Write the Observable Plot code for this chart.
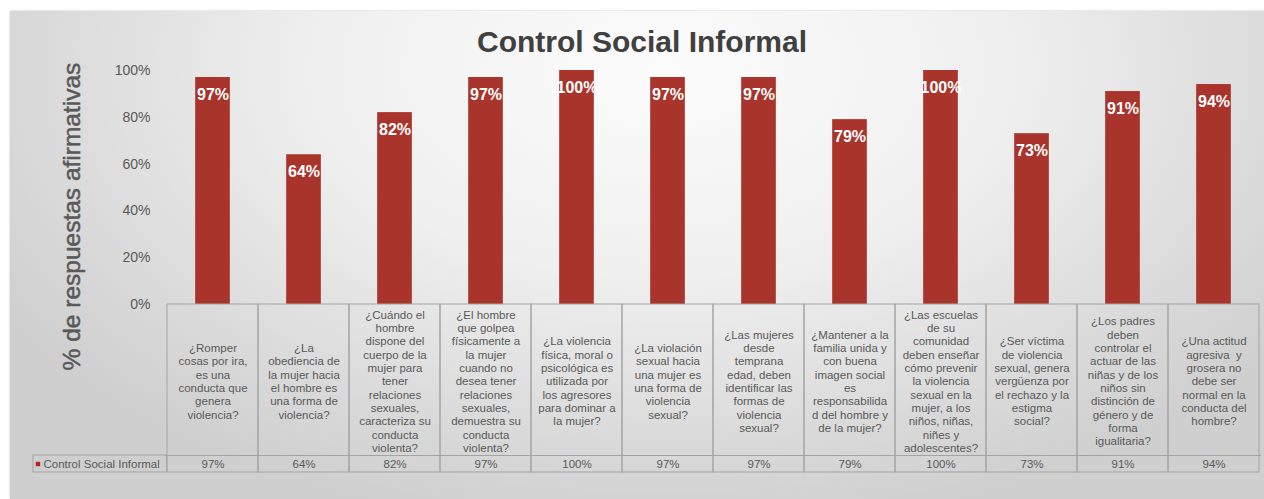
<!DOCTYPE html>
<html>
<head>
<meta charset="utf-8">
<script src="https://cdn.jsdelivr.net/npm/d3@7"></script>
<script src="https://cdn.jsdelivr.net/npm/@observablehq/plot@0.6"></script>
<style>
  html, body { margin: 0; padding: 0; background: #ffffff; }
  #wrap { position: relative; width: 1264px; height: 499px; overflow: hidden; font-family: "Liberation Sans", Arial, sans-serif; }
  #bg { position: absolute; left: 10px; top: 11px; right: 0; bottom: 0;
        background: radial-gradient(ellipse 62% 95% at 52% 12%, #fcfcfc 0%, #efefef 45%, #dadada 80%, #cfcfcf 100%);
        box-shadow: 0 0 2px rgba(0,0,0,0.25); }
  #title { position: absolute; left: 0; width: 1284px; top: 24px; text-align: center; font-size: 30px; line-height: 36px; font-weight: bold; color: #404040; }
  #wrap svg { position: absolute; left: 0; top: 0; overflow: visible; }
</style>
</head>
<body>
<div id="wrap">
  <div id="bg"></div>
  <div id="title">Control Social Informal</div>
</div>
<script>
const chartTitle = "Control Social Informal";
const seriesName = "Control Social Informal";
const yAxisLabel = "% de respuestas afirmativas";
const categories = [
  "¿Romper\ncosas por ira,\nes una\nconducta que\ngenera\nviolencia?",
  "¿La\nobediencia de\nla mujer hacia\nel hombre es\nuna forma de\nviolencia?",
  "¿Cuándo el\nhombre\ndispone del\ncuerpo de la\nmujer para\ntener\nrelaciones\nsexuales,\ncaracteriza su\nconducta\nviolenta?",
  "¿El hombre\nque golpea\nfísicamente a\nla mujer\ncuando no\ndesea tener\nrelaciones\nsexuales,\ndemuestra su\nconducta\nviolenta?",
  "¿La violencia\nfísica, moral o\npsicológica es\nutilizada por\nlos agresores\npara dominar a\nla mujer?",
  "¿La violación\nsexual hacia\nuna mujer es\nuna forma de\nviolencia\nsexual?",
  "¿Las mujeres\ndesde\ntemprana\nedad, deben\nidentificar las\nformas de\nviolencia\nsexual?",
  "¿Mantener a la\nfamilia unida y\ncon buena\nimagen social\nes\nresponsabilida\nd del hombre y\nde la mujer?",
  "¿Las escuelas\nde su\ncomunidad\ndeben enseñar\ncómo prevenir\nla violencia\nsexual en la\nmujer, a los\nniños, niñas,\nniñes y\nadolescentes?",
  "¿Ser víctima\nde violencia\nsexual, genera\nvergüenza por\nel rechazo y la\nestigma\nsocial?",
  "¿Los padres\ndeben\ncontrolar el\nactuar de las\nniñas y de los\nniños sin\ndistinción de\ngénero y de\nforma\nigualitaria?",
  "¿Una actitud\nagresiva  y\ngrosera no\ndebe ser\nnormal en la\nconducta del\nhombre?"
];
const values = [97, 64, 82, 97, 100, 97, 97, 79, 100, 73, 91, 94];
const yTicks = [0, 20, 40, 60, 80, 100];

const data = categories.map((c, i) => ({category: c, value: values[i]}));

// geometry
const W = 1264, H = 499;
const mTop = 70, mBottom = 195, mLeft = 165, mRight = 3;
const pxPerUnit = (H - mBottom - mTop) / 100;
const below = px => -px / pxPerUnit;   // pixels below the baseline, in y units
const row1 = 151, row2 = 17;
const band = (W - mLeft - mRight) / categories.length;
const barW = 35;
const gray = "#595959";
const lineC = "#a3a3a3";
const barC = "#a9342c";

const chart = Plot.plot({
  width: W, height: H,
  marginTop: mTop, marginBottom: mBottom, marginLeft: mLeft, marginRight: mRight,
  style: {background: "transparent", fontFamily: "'Liberation Sans', Arial, sans-serif", overflow: "visible"},
  x: {domain: categories, padding: 0, axis: null},
  y: {domain: [0, 100], axis: null},
  marks: [
    Plot.axisY({ticks: yTicks, tickFormat: d => d + "%", tickSize: 0, tickPadding: 15, fontSize: 14, color: gray, fill: gray, label: null}),
    Plot.text([yAxisLabel], {frameAnchor: "left", text: d => d, rotate: -90, textAnchor: "middle", dx: -93, dy: 29, fontSize: 24.5, fill: gray, stroke: gray, strokeWidth: 0.5}),
    Plot.barY(data, {x: "category", y: "value", fill: barC, insetLeft: (band - barW) / 2, insetRight: (band - barW) / 2}),
    Plot.text(data, {x: "category", y: "value", text: d => d.value + "%", dy: 17, fill: "white", fontWeight: "bold", fontSize: 16}),
    // data table
    Plot.barY(categories, {x: d => d, y1: 0, y2: below(row1 + row2), fill: "none", stroke: lineC, strokeWidth: 1}),
    Plot.ruleY([below(row1)], {stroke: lineC, strokeWidth: 1}),
    Plot.barY([categories[0]], {x: d => d, y1: below(row1), y2: below(row1 + row2), fill: "none", stroke: lineC, strokeWidth: 1, insetLeft: -(mLeft - 31), insetRight: band}),
    Plot.text(categories, {x: d => d, y: () => below(row1 / 2 + 1), text: d => d, fontSize: 11.5, lineHeight: 1.16, fill: gray}),
    Plot.text(data, {x: "category", y: () => below(row1 + row2 / 2), text: d => d.value + "%", fontSize: 11.5, fill: gray}),
    Plot.dot([seriesName], {frameAnchor: "left", y: () => below(row1 + row2 / 2), dx: -(mLeft - 37.5), symbol: "square", r: 2.5, fill: "#c0201b"}),
    Plot.text([seriesName], {frameAnchor: "left", y: () => below(row1 + row2 / 2), text: d => d, dx: -(mLeft - 43), textAnchor: "start", fontSize: 11.5, fill: gray})
  ]
});
document.getElementById("title").textContent = chartTitle;
document.getElementById("wrap").appendChild(chart);
</script>
</body>
</html>
